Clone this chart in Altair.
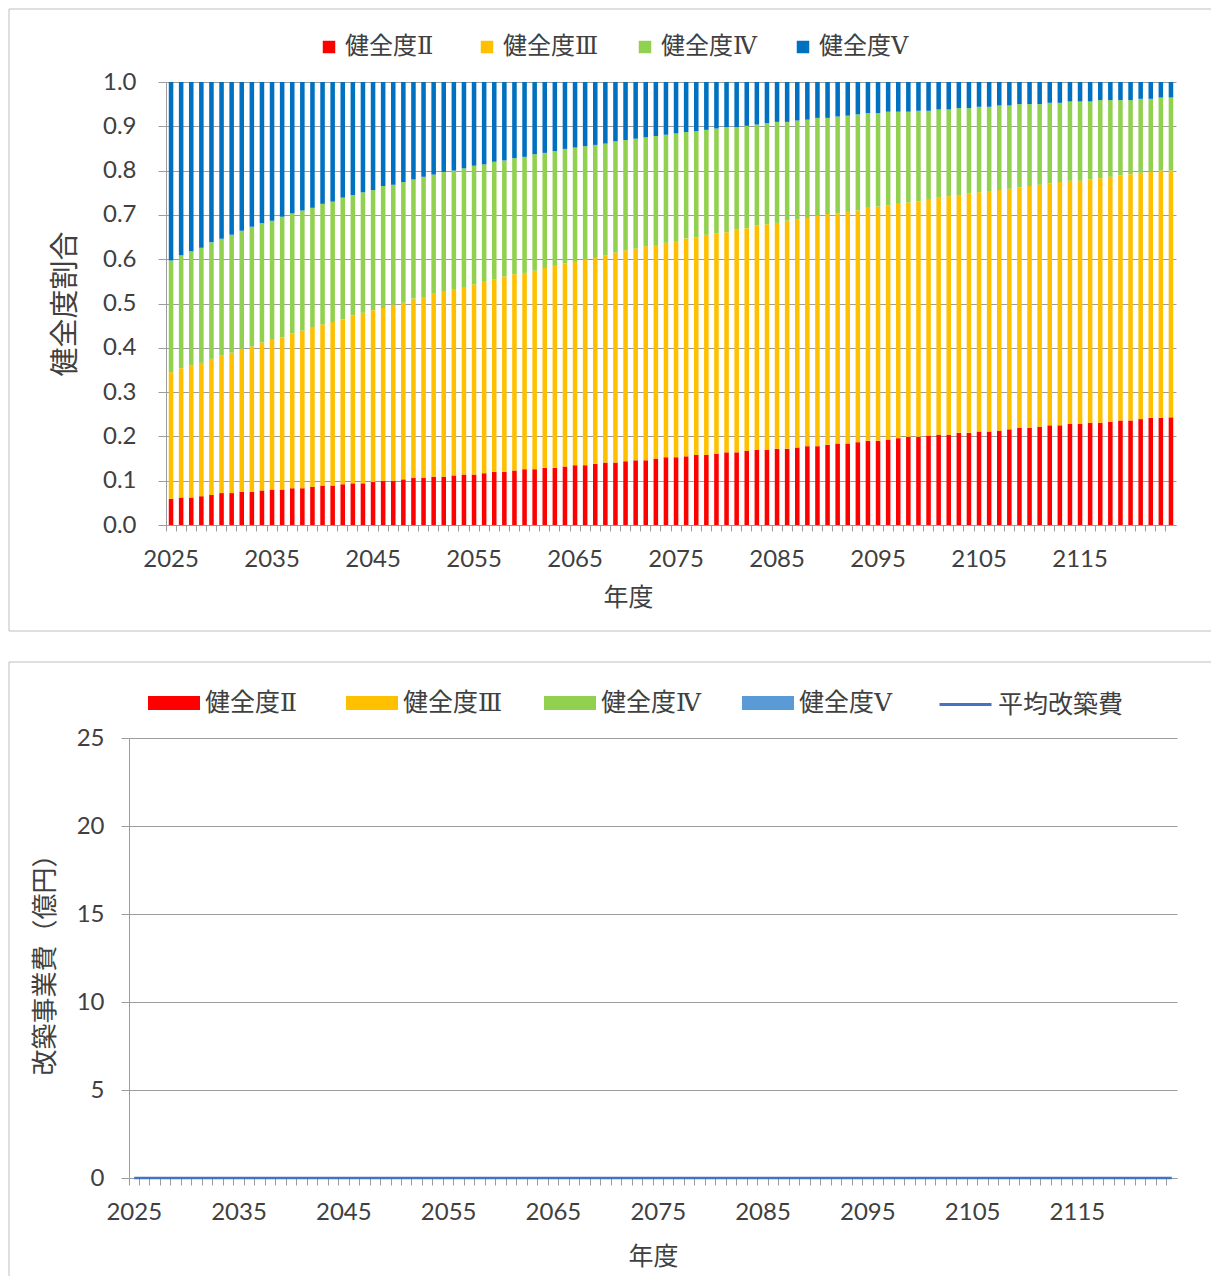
import altair as alt
import pandas as pd

years = list(range(2025, 2125))

# Upper edge of the 健全度Ⅱ / Ⅲ / Ⅳ segments (cumulative share of assets, 0-1)
cum_ii = [
    0.059, 0.062, 0.062, 0.065, 0.068, 0.072, 0.072, 0.075, 0.075, 0.078,
    0.080, 0.080, 0.083, 0.083, 0.086, 0.089, 0.089, 0.092, 0.094, 0.094,
    0.097, 0.100, 0.100, 0.103, 0.106, 0.106, 0.109, 0.109, 0.112, 0.114,
    0.114, 0.117, 0.120, 0.120, 0.123, 0.126, 0.126, 0.129, 0.129, 0.132,
    0.135, 0.135, 0.138, 0.141, 0.141, 0.144, 0.146, 0.146, 0.150, 0.153,
    0.153, 0.155, 0.158, 0.158, 0.161, 0.164, 0.164, 0.167, 0.170, 0.170,
    0.172, 0.172, 0.175, 0.178, 0.178, 0.181, 0.184, 0.184, 0.187, 0.190,
    0.190, 0.193, 0.196, 0.199, 0.199, 0.202, 0.204, 0.204, 0.208, 0.208,
    0.211, 0.211, 0.213, 0.216, 0.219, 0.219, 0.222, 0.225, 0.225, 0.228,
    0.228, 0.231, 0.231, 0.233, 0.236, 0.236, 0.239, 0.242, 0.242, 0.243,
]
cum_iii = [
    0.345, 0.354, 0.360, 0.366, 0.375, 0.383, 0.389, 0.398, 0.403, 0.412,
    0.418, 0.424, 0.433, 0.439, 0.447, 0.453, 0.458, 0.464, 0.473, 0.479,
    0.485, 0.490, 0.497, 0.502, 0.511, 0.513, 0.522, 0.528, 0.531, 0.537,
    0.543, 0.549, 0.554, 0.561, 0.566, 0.569, 0.574, 0.580, 0.585, 0.591,
    0.594, 0.600, 0.603, 0.609, 0.615, 0.620, 0.624, 0.629, 0.632, 0.637,
    0.641, 0.647, 0.649, 0.655, 0.658, 0.661, 0.667, 0.670, 0.676, 0.679,
    0.682, 0.687, 0.690, 0.693, 0.699, 0.702, 0.704, 0.707, 0.710, 0.716,
    0.719, 0.722, 0.725, 0.728, 0.731, 0.734, 0.739, 0.742, 0.745, 0.748,
    0.751, 0.754, 0.756, 0.759, 0.762, 0.765, 0.768, 0.771, 0.774, 0.777,
    0.777, 0.780, 0.783, 0.786, 0.789, 0.792, 0.795, 0.797, 0.800, 0.800,
]
cum_iv = [
    0.597, 0.609, 0.618, 0.626, 0.638, 0.646, 0.655, 0.664, 0.673, 0.681,
    0.687, 0.696, 0.704, 0.710, 0.716, 0.725, 0.730, 0.739, 0.745, 0.751,
    0.756, 0.765, 0.768, 0.774, 0.780, 0.786, 0.791, 0.797, 0.800, 0.805,
    0.811, 0.814, 0.820, 0.823, 0.828, 0.831, 0.837, 0.840, 0.844, 0.849,
    0.852, 0.855, 0.858, 0.861, 0.866, 0.869, 0.872, 0.875, 0.878, 0.881,
    0.884, 0.887, 0.889, 0.892, 0.895, 0.898, 0.898, 0.901, 0.904, 0.907,
    0.910, 0.910, 0.913, 0.915, 0.919, 0.919, 0.922, 0.924, 0.927, 0.930,
    0.930, 0.933, 0.933, 0.933, 0.935, 0.935, 0.938, 0.938, 0.941, 0.941,
    0.944, 0.944, 0.947, 0.947, 0.950, 0.950, 0.950, 0.953, 0.953, 0.956,
    0.956, 0.956, 0.959, 0.959, 0.959, 0.959, 0.962, 0.962, 0.965, 0.965,
]

grades = ["健全度Ⅱ", "健全度Ⅲ", "健全度Ⅳ", "健全度Ⅴ"]
share_colors = ["#FF0000", "#FFC000", "#92D050", "#0070C0"]
cost_colors = ["#FF0000", "#FFC000", "#92D050", "#5B9BD5"]
avg_name = "平均改築費"
avg_color = "#4472C4"

# Rebuild project cost (億円) per grade and the average cost: zero in every year
cost_by_grade = {g: [0.0] * len(years) for g in grades}
avg_cost = [0.0] * len(years)

JP = "Noto Sans CJK JP"
LEGEND_FONT = "'DejaVu Serif', 'Noto Sans CJK JP'"
NUM = "Lato"
TXT = "#404040"
GRID = "#9C9C9C"
FRAME = "#BFBFBF"

# ---------- share table (segment lower / upper edges) ----------
n = len(years)
lower = {grades[0]: [0.0] * n, grades[1]: cum_ii, grades[2]: cum_iii, grades[3]: cum_iv}
upper = {grades[0]: cum_ii, grades[1]: cum_iii, grades[2]: cum_iv, grades[3]: [1.0] * n}
rows = []
for k, g in enumerate(grades):
    for i, yr in enumerate(years):
        rows.append({"year": yr, "grade": g, "k": k, "lo": lower[g][i], "hi": upper[g][i]})
share_df = pd.DataFrame(rows)

cost_rows = []
for k, g in enumerate(grades):
    for i, yr in enumerate(years):
        cost_rows.append({"year": yr, "grade": g, "k": k, "cost": cost_by_grade[g][i]})
cost_df = pd.DataFrame(cost_rows)
avg_df = pd.DataFrame({"year": years, "avg": avg_cost, "series": [avg_name] * n})

one = pd.DataFrame({"k": [0]})

PLOT_W = 1048
TOP_SHIFT = 37          # top panel's category axis starts this far right of the shared origin
STEP_TOP = 10.1
H_TOP = 443
H_BOT = 440

label_every_10 = "datum.value % 10 == 5 ? datum.label : ''"


def hrule(left, right, y):
    return alt.Chart(one).mark_rule(color=FRAME, strokeWidth=1).encode(
        x=alt.value(left), x2=alt.value(right), y=alt.value(y))


def vrule(x, top, bottom):
    return alt.Chart(one).mark_rule(color=FRAME, strokeWidth=1).encode(
        x=alt.value(x), y=alt.value(top), y2=alt.value(bottom))


# ---------- top panel: share of each soundness grade ----------
x_top = alt.X(
    "year:O",
    scale=alt.Scale(range=[TOP_SHIFT, TOP_SHIFT + STEP_TOP * n], paddingInner=0, paddingOuter=0),
    axis=alt.Axis(title="年度", bandPosition=0, labelExpr=label_every_10, labelAngle=0,
                  labelOverlap=False, tickSize=6, labelPadding=16, titlePadding=14,
                  titleFontSize=25, titleX=499),
)
y_top = alt.Y(
    "lo:Q",
    scale=alt.Scale(domain=[0, 1], nice=False),
    axis=alt.Axis(title="健全度割合", values=[round(v * 0.1, 1) for v in range(11)],
                  format=".1f", offset=-TOP_SHIFT, tickSize=8, labelPadding=22,
                  titlePadding=22, titleFontSize=29, grid=True),
)
share_bars = alt.Chart(share_df).mark_bar(width=alt.RelativeBandSize(0.45)).encode(
    x=x_top,
    y=y_top,
    y2="hi:Q",
    color=alt.Color(
        "grade:N",
        scale=alt.Scale(domain=grades, range=share_colors),
        legend=alt.Legend(title=None, orient="none", legendX=188, legendY=-47,
                          direction="horizontal", gridAlign="all",
                          symbolType="square", symbolSize=156, symbolStrokeWidth=0,
                          labelFont=LEGEND_FONT, labelFontSize=24, labelColor=TXT,
                          labelOffset=4, columnPadding=34),
    ),
    order=alt.Order("k:Q"),
)
top = alt.layer(
    hrule(-120, 1082, -73), hrule(-120, 1082, 549), vrule(-120, -73, 549), share_bars
).properties(width=PLOT_W, height=H_TOP)

# ---------- bottom panel: rebuild project cost ----------
x_bot = alt.X(
    "year:O",
    scale=alt.Scale(paddingInner=0, paddingOuter=0),
    axis=alt.Axis(title="年度", bandPosition=0, labelExpr=label_every_10, labelAngle=0,
                  labelOverlap=False, tickSize=7, labelPadding=15, titlePadding=20,
                  titleFontSize=25),
)
y_scale_bot = alt.Scale(domain=[0, 25], nice=False)
y_axis_bot = alt.Axis(title="改築事業費（億円）", values=[0, 5, 10, 15, 20, 25],
                      tickSize=8, labelPadding=17, titlePadding=18, titleFontSize=26,
                      grid=True)
cost_bars = alt.Chart(cost_df).mark_bar(width=alt.RelativeBandSize(0.45)).encode(
    x=x_bot,
    y=alt.Y("cost:Q", stack="zero", scale=y_scale_bot, axis=y_axis_bot),
    color=alt.Color(
        "grade:N",
        scale=alt.Scale(domain=grades, range=cost_colors),
        legend=alt.Legend(title=None, orient="none", legendX=19, legendY=-61,
                          direction="horizontal", gridAlign="all",
                          symbolType="M-1,-0.27L1,-0.27L1,0.27L-1,0.27Z",
                          symbolSize=2704, symbolStrokeWidth=0, labelFont=LEGEND_FONT,
                          labelFontSize=25, labelColor=TXT, labelOffset=5,
                          columnPadding=41),
    ),
    order=alt.Order("k:Q"),
)
avg_line = alt.Chart(avg_df).mark_line(strokeWidth=2.5).encode(
    x=x_bot,
    y=alt.Y("avg:Q", scale=y_scale_bot, axis=y_axis_bot),
    stroke=alt.Stroke(
        "series:N",
        scale=alt.Scale(domain=[avg_name], range=[avg_color]),
        legend=alt.Legend(title=None, orient="none", legendX=809, legendY=-61,
                          symbolType="stroke", symbolSize=2704, symbolStrokeWidth=3,
                          labelFont=JP, labelFontSize=25, labelColor=TXT,
                          labelOffset=5),
    ),
)
bottom = alt.layer(
    hrule(-120, 1082, -76), vrule(-120, -76, 538), cost_bars, avg_line,
).properties(width=PLOT_W, height=H_BOT)

chart = alt.vconcat(top, bottom, spacing=29).resolve_scale(
    color="independent", stroke="independent"
).resolve_legend(
    color="independent", stroke="independent"
).properties(
    padding={"left": 8, "top": 8, "right": 0, "bottom": 0}
).configure_view(
    stroke=None
).configure_axis(
    labelFont=NUM, labelFontSize=24, labelColor=TXT,
    titleFont=JP, titleColor=TXT, titleFontWeight="normal",
    domainColor=GRID, tickColor=GRID, gridColor=GRID, gridWidth=1,
)

chart.save("out.html", embed_options={"renderer": "svg", "actions": False})
